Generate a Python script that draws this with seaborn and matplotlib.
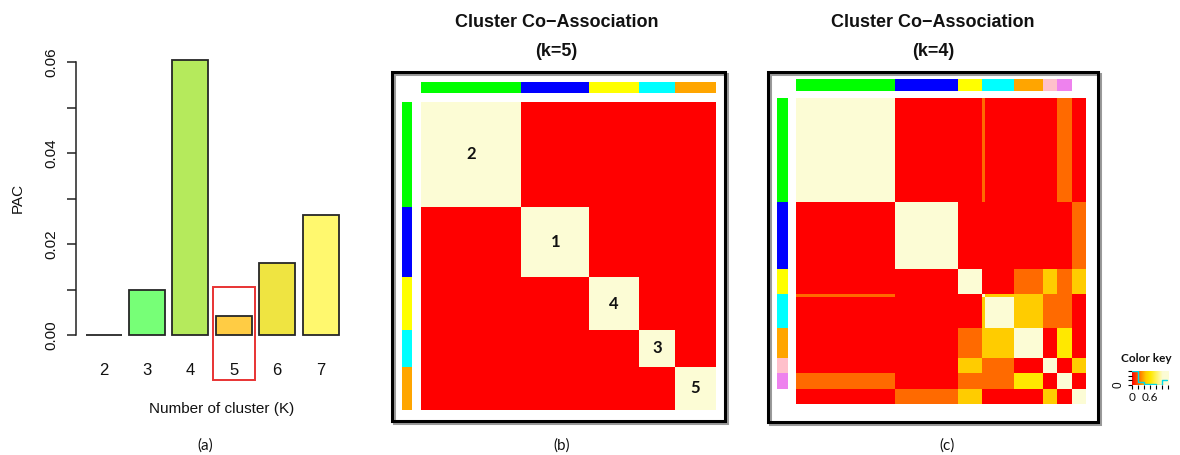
import numpy as np
import matplotlib
matplotlib.use('Agg')
import matplotlib.pyplot as plt
from matplotlib.colors import LinearSegmentedColormap, ListedColormap
from matplotlib.patches import Rectangle
import seaborn as sns

# ---- dados ----

# (a) PAC por número de clusters
k_vals = ['2', '3', '4', '5', '6', '7']
pac = [0.0, 0.0100, 0.0605, 0.0041, 0.0158, 0.0265]
cores_barras = ['#8A8A8A', '#77FF77', '#B5EA5C', '#FFCC44', '#EFE441', '#FFF86E']
k_destaque = '5'

# (b) co-associação k=5: tamanho dos grupos, cores e rótulos
rotulos_b = ['2', '1', '4', '3', '5']
tam_b = [34, 23, 17, 12, 14]
cores_b = ['#00FF00', '#0000FF', '#FFFF00', '#00FFFF', '#FFA500']
blocos_b = [[1, 0, 0, 0, 0],
            [0, 1, 0, 0, 0],
            [0, 0, 1, 0, 0],
            [0, 0, 0, 1, 0],
            [0, 0, 0, 0, 1]]

# (c) co-associação k=4 (8 grupos na ordenação)
tam_c = [34, 22, 8, 11, 10, 5, 5, 5]
cores_c = ['#00FF00', '#0000FF', '#FFFF00', '#00FFFF', '#FFA500',
           '#FFC0CB', '#EE82EE', '#FFFFFF']
R, O, G, Y, L = 0.0, 0.22, 0.45, 0.6, 1.0
blocos_c = [[L, R, R, R, R, R, O, R],
            [R, L, R, R, R, R, R, O],
            [R, R, L, R, O, G, O, G],
            [R, R, R, L, G, O, O, R],
            [R, R, O, G, L, R, Y, R],
            [R, R, G, O, R, L, R, G],
            [O, R, O, O, Y, R, L, R],
            [R, O, G, R, R, G, R, L]]
# primeira amostra do grupo ciano se comporta diferente
amostra_esp = 64
esp_vs_verde = O
esp_vs_ciano = G

# ---- estilo ----
sns.set_style('white')
plt.rcParams['font.family'] = ['Liberation Sans', 'DejaVu Sans']
plt.rcParams['text.color'] = '#111111'
plt.rcParams['xtick.color'] = '#111111'
plt.rcParams['ytick.color'] = '#111111'

W, H = 1180, 455
fig = plt.figure(figsize=(W / 100, H / 100), dpi=100)


def caixa(x0, y0, x1, y1):
    # retângulo em pixels -> coordenadas da figura
    return [x0 / W, 1 - y1 / H, (x1 - x0) / W, (y1 - y0) / H]


def fx(x):
    return x / W


def fy(y):
    return 1 - y / H


calor = LinearSegmentedColormap.from_list(
    'calor', [(0.0, '#FF0000'), (0.22, '#FF6A00'), (0.45, '#FFCC00'),
              (0.6, '#FFE800'), (0.85, '#FFF680'), (1.0, '#FCFCD5')])

# ---- (a) barras ----
ax = fig.add_axes(caixa(76, 62.3, 346.6, 335))
sns.barplot(x=k_vals, y=pac, hue=k_vals, palette=cores_barras, legend=False,
            width=0.83, saturation=1, edgecolor='#262626', linewidth=1.3, ax=ax)
for p in ax.patches:
    p.set_clip_on(False)
ax.set_xlim(-0.634, 5.6)
ax.set_ylim(0, 0.06)
ax.set_yticks([0, 0.01, 0.02, 0.03, 0.04, 0.05, 0.06])
ax.set_yticklabels(['0.00', '', '0.02', '', '0.04', '', '0.06'],
                   rotation=90, va='center', fontsize=11)
ax.tick_params(axis='y', left=True, length=6.7, width=1.1, color='#222222', pad=6)
ax.tick_params(axis='x', length=0, pad=20, labelsize=12)
for s in ['top', 'right', 'bottom']:
    ax.spines[s].set_visible(False)
ax.spines['left'].set_bounds(0, 0.06)
ax.spines['left'].set_color('#222222')
ax.spines['left'].set_linewidth(1.1)
ax.set_xlabel('')
ax.set_ylabel('')
i = k_vals.index(k_destaque)
ax.add_patch(Rectangle((i - 0.48, -0.0099), 0.97, 0.0205, fill=False,
                       ec='#E83333', lw=1.4, clip_on=False))
fig.text(fx(18), fy(198), 'PAC', rotation=90, ha='center', va='center', fontsize=11)
fig.text(fx(221.7), fy(409), 'Number of cluster (K)', ha='center', va='center',
         fontsize=11)


# ---- heatmaps de co-associação ----
def painel(tam, cores, blocos, hx, top_y, left_x, titulo_x, titulo, moldura,
           especial=None):
    n = len(tam)
    mat = np.repeat(np.repeat(np.array(blocos, dtype=float), tam, axis=0), tam, axis=1)
    if especial is not None:
        idx, v_verde, v_ciano = especial
        ini = np.cumsum([0] + tam)
        mat[idx, ini[0]:ini[1]] = v_verde
        mat[ini[0]:ini[1], idx] = v_verde
        mat[idx, ini[3]:ini[4]] = v_ciano
        mat[ini[3]:ini[4], idx] = v_ciano
        mat[idx, idx] = L

    grupos = np.repeat(np.arange(n), tam)
    cmap_g = ListedColormap(cores)

    axh = fig.add_axes(caixa(*hx))
    sns.heatmap(mat, cmap=calor, vmin=0, vmax=1, cbar=False,
                xticklabels=False, yticklabels=False, ax=axh)

    axt = fig.add_axes(caixa(hx[0], top_y[0], hx[2], top_y[1]))
    sns.heatmap(grupos[None, :], cmap=cmap_g, vmin=-0.5, vmax=n - 0.5, cbar=False,
                xticklabels=False, yticklabels=False, ax=axt)

    axl = fig.add_axes(caixa(left_x[0], hx[1], left_x[1], hx[3]))
    sns.heatmap(grupos[:, None], cmap=cmap_g, vmin=-0.5, vmax=n - 0.5, cbar=False,
                xticklabels=False, yticklabels=False, ax=axl)

    fig.text(fx(titulo_x), fy(22.8), 'Cluster Co\u2212Association', ha='center',
             va='center', fontsize=13, fontweight='bold')
    fig.text(fx(titulo_x), fy(51), titulo, ha='center', va='center',
             fontsize=13, fontweight='bold')

    x0, y0, x1, y1 = moldura
    sombra = Rectangle((fx(x0 + 2), fy(y1 + 2)), (x1 - x0) / W, (y1 - y0) / H,
                       transform=fig.transFigure, fill=False, ec='#9A9A9A', lw=2.2)
    borda = Rectangle((fx(x0), fy(y1)), (x1 - x0) / W, (y1 - y0) / H,
                      transform=fig.transFigure, fill=False, ec='black', lw=2.2)
    fig.add_artist(sombra)
    fig.add_artist(borda)
    return axh


axb = painel(tam_b, cores_b, blocos_b, (421, 101.7, 716, 410), (81.7, 92.7),
             (402, 412), 556.7, '(k=5)', (392, 72, 725, 421))
ini_b = np.cumsum([0] + tam_b)
for j, rot in enumerate(rotulos_b):
    c = (ini_b[j] + ini_b[j + 1]) / 2
    axb.text(c, c, rot, ha='center', va='center', fontsize=12,
             fontweight='bold', family=['Lato', 'DejaVu Sans'])

axc = painel(tam_c, cores_c, blocos_c, (796, 98.3, 1086, 404), (79, 91),
             (777, 788), 933, '(k=4)', (768, 72, 1098, 422),
             especial=(amostra_esp, esp_vs_verde, esp_vs_ciano))

# ---- chave de cores ----
axk = fig.add_axes(caixa(1131.7, 370.7, 1168, 385))
grad = np.linspace(0, 1.2, 200)[None, :]
axk.imshow(grad, cmap=calor, vmin=0, vmax=1, aspect='auto', extent=(0, 1.2, 0, 1))
mat_c = np.repeat(np.repeat(np.array(blocos_c), tam_c, axis=0), tam_c, axis=1)
cont, bordas = np.histogram(mat_c.ravel(), bins=6, range=(0, 1.2))
alt = cont / cont.max() * 0.95 + 0.03
axk.step(np.r_[bordas[0], bordas[:-1] + 0.01, bordas[-1] - 0.02],
         np.r_[1.0, alt, alt[-1]], where='post', color='#00D8E8', lw=1)
axk.set_xlim(0, 1.2)
axk.set_ylim(0, 1)
axk.set_xticks([0, 0.2, 0.4, 0.6, 0.8, 1.0, 1.2])
axk.set_xticklabels(['0', '', '', '0.6', '', '', ''], fontsize=8.5,
                    family=['Lato', 'DejaVu Sans'])
axk.set_yticks([0, 0.33, 0.66, 1.0])
axk.set_yticklabels(['0', '', '', ''], rotation=90, va='center', fontsize=8.5)
axk.tick_params(bottom=True, left=True, length=3, width=0.8, pad=2, color='black')
for s in axk.spines.values():
    s.set_visible(False)
fig.text(fx(1146), fy(358.3), 'Color key', ha='center', va='center',
         fontsize=8.5, fontweight='bold', family=['Lato', 'DejaVu Sans'])

# ---- legendas dos painéis ----
for x, t in [(205, '(a)'), (562, '(b)'), (946.7, '(c)')]:
    fig.text(fx(x), fy(446), t, ha='center', va='center', fontsize=11,
             family=['Lato', 'DejaVu Sans'])

plt.savefig('out.png', dpi=100)
plt.close()
